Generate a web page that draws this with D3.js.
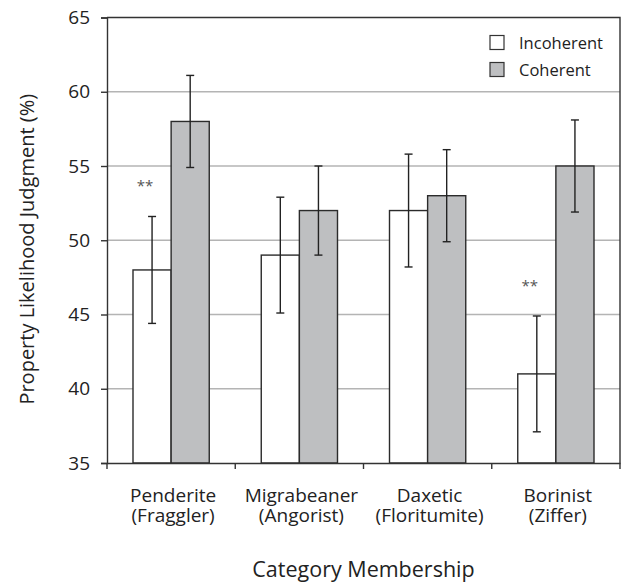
<!DOCTYPE html>
<html>
<head>
<meta charset="utf-8">
<script src="https://cdn.jsdelivr.net/npm/d3@7"></script>
<style>
  body { margin: 0; background: #fff; }
  svg { display: block; font-family: "Open Sans", sans-serif; }
</style>
</head>
<body>
<div id="chart"></div>
<script>
var categories = ["Penderite", "Migrabeaner", "Daxetic", "Borinist"];
var subLabels = ["(Fraggler)", "(Angorist)", "(Floritumite)", "(Ziffer)"];
var series = ["Incoherent", "Coherent"];
var incoherent = [48, 49, 52, 41];
var coherent = [58, 52, 53, 55];
var incoherentErr = [3.6, 3.9, 3.8, 3.9];
var coherentErr = [3.1, 3.0, 3.1, 3.1];
var significant = [true, false, false, true];
var yTicks = [35, 40, 45, 50, 55, 60, 65];

var width = 627, height = 582;
var margin = {top: 17.5, right: 7, bottom: 119, left: 107};
var w = width - margin.left - margin.right,
    h = height - margin.top - margin.bottom;

var colors = {Incoherent: "#ffffff", Coherent: "#bebfc1"};

var data = categories.map(function(c, i) {
  return {
    cat: c,
    values: [
      {key: "Incoherent", v: incoherent[i], e: incoherentErr[i]},
      {key: "Coherent", v: coherent[i], e: coherentErr[i]}
    ]
  };
});

var svg = d3.select("#chart").append("svg")
    .attr("width", width).attr("height", height);

var g = svg.append("g")
    .attr("transform", "translate(" + margin.left + "," + margin.top + ")");

var x0 = d3.scaleBand().domain(categories).range([0, w]).paddingInner(0).paddingOuter(0);
var x1 = d3.scaleBand().domain(series).range([26, x0.bandwidth() - 26]);
var y = d3.scaleLinear().domain([35, 65]).range([h, 0]);

// gridlines
g.selectAll(".grid").data(yTicks.slice(1, -1)).enter().append("line")
    .attr("x1", 0).attr("x2", w)
    .attr("y1", function(d) { return y(d); })
    .attr("y2", function(d) { return y(d); })
    .attr("stroke", "#b4b4b4").attr("stroke-width", 1.6);

// frame top/right
g.append("path")
    .attr("d", "M0,0H" + w + "V" + h)
    .attr("fill", "none").attr("stroke", "#333").attr("stroke-width", 1.4);

// bars
var groups = g.selectAll(".grp").data(data).enter().append("g")
    .attr("transform", function(d) { return "translate(" + x0(d.cat) + ",0)"; });

groups.selectAll("rect").data(function(d) { return d.values; }).enter().append("rect")
    .attr("x", function(d) { return x1(d.key); })
    .attr("width", x1.bandwidth())
    .attr("y", function(d) { return y(d.v); })
    .attr("height", function(d) { return h - y(d.v); })
    .attr("fill", function(d) { return colors[d.key]; })
    .attr("stroke", "#2b2b2b").attr("stroke-width", 1.4);

// error bars
var eb = groups.selectAll(".err").data(function(d) { return d.values; }).enter().append("g")
    .attr("stroke", "#222").attr("stroke-width", 1.4);
eb.append("line")
    .attr("x1", function(d) { return x1(d.key) + x1.bandwidth() / 2; })
    .attr("x2", function(d) { return x1(d.key) + x1.bandwidth() / 2; })
    .attr("y1", function(d) { return y(d.v + d.e); })
    .attr("y2", function(d) { return y(d.v - d.e); });
[1, -1].forEach(function(s) {
  eb.append("line")
    .attr("x1", function(d) { return x1(d.key) + x1.bandwidth() / 2 - 4; })
    .attr("x2", function(d) { return x1(d.key) + x1.bandwidth() / 2 + 4; })
    .attr("y1", function(d) { return y(d.v + s * d.e); })
    .attr("y2", function(d) { return y(d.v + s * d.e); });
});

// significance markers
groups.filter(function(d, i) { return significant[i]; }).append("text")
    .attr("x", x1("Incoherent") + x1.bandwidth() / 2 - 7)
    .attr("y", function(d) { return y(d.values[0].v + d.values[0].e) - 25; })
    .attr("text-anchor", "middle")
    .attr("font-size", 15).attr("fill", "#555")
    .text("**");

// y axis
var yAxis = g.append("g")
    .call(d3.axisLeft(y).tickValues(yTicks).tickSize(6).tickPadding(11));
yAxis.select(".domain").attr("stroke", "#333").attr("stroke-width", 1.4);
yAxis.selectAll(".tick line").attr("stroke", "#333").attr("stroke-width", 1.4);
yAxis.selectAll("text").attr("font-size", 19).attr("fill", "#222")
    .attr("font-family", "Open Sans, sans-serif");

// x axis
var xAxis = g.append("g").attr("transform", "translate(0," + h + ")")
    .call(d3.axisBottom(x0).tickSize(0).tickFormat(""));
xAxis.select(".domain").attr("stroke", "#333").attr("stroke-width", 1.4);
xAxis.selectAll(".bound").data(d3.range(categories.length + 1)).enter().append("line")
    .attr("class", "bound")
    .attr("x1", function(i) { return i * x0.step(); })
    .attr("x2", function(i) { return i * x0.step(); })
    .attr("y1", 0).attr("y2", 6)
    .attr("stroke", "#333").attr("stroke-width", 1.4);

// category labels, two lines each
[categories, subLabels].forEach(function(lines, k) {
  g.selectAll(".clab" + k).data(lines).enter().append("text")
    .attr("text-anchor", "middle")
    .attr("font-size", 19).attr("fill", "#222")
    .attr("x", function(d, i) { return x0(categories[i]) + x0.bandwidth() / 2 + 2; })
    .attr("y", h + 38.5 + k * 20.5)
    .text(function(d) { return d; });
});

// axis titles
svg.append("text")
    .attr("x", margin.left + w / 2).attr("y", 577)
    .attr("text-anchor", "middle").attr("font-size", 21.5).attr("fill", "#222")
    .text("Category Membership");
svg.append("text")
    .attr("transform", "translate(34," + (margin.top + h / 2 + 9) + ") rotate(-90)")
    .attr("text-anchor", "middle").attr("font-size", 20).attr("fill", "#222")
    .text("Property Likelihood Judgment (%)");

// legend
var lg = g.append("g").attr("transform", "translate(383,18)");
series.forEach(function(s, i) {
  lg.append("rect").attr("x", 0).attr("y", i * 27).attr("width", 14).attr("height", 14)
    .attr("fill", colors[s]).attr("stroke", "#333").attr("stroke-width", 1.2);
  lg.append("text").attr("x", 29).attr("y", i * 27 + 13)
    .attr("font-size", 16.5).attr("fill", "#222").text(s);
});
</script>
</body>
</html>
